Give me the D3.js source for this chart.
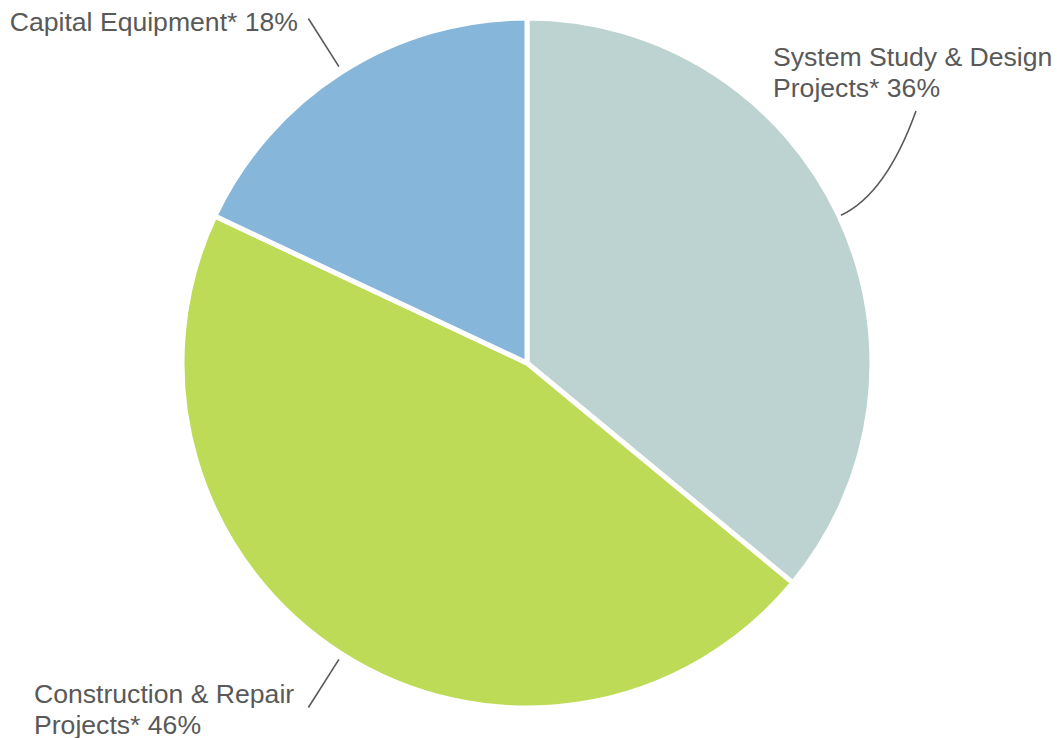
<!DOCTYPE html>
<html>
<head>
<meta charset="utf-8">
<script src="https://cdn.jsdelivr.net/npm/d3@7"></script>
<style>
  html, body { margin: 0; padding: 0; background: #fff; }
  svg { display: block; }
</style>
</head>
<body>
<div id="chart"></div>
<script>
// chart data
var categories = ["System Study & Design Projects*", "Construction & Repair Projects*", "Capital Equipment*"];
var shares = [36, 46, 18];
var sliceColors = ["#bdd3d1", "#bddb57", "#86b7da"];

var W = 1057, H = 738;
var cx = 527, cy = 363, r = 345;

// label layout: lines, anchor, x, first baseline
var labelLayout = [
    { lines: ["System Study & Design", "Projects* 36%"], anchor: "start", x: 773, y: 66 },
    { lines: ["Construction & Repair", "Projects* 46%"], anchor: "start", x: 34, y: 703 },
    { lines: ["Capital Equipment* 18%"], anchor: "end", x: 298, y: 31 }
];

var svg = d3.select("#chart").append("svg")
    .attr("width", W)
    .attr("height", H);

var g = svg.append("g").attr("transform", "translate(" + cx + "," + cy + ")");

var data = categories.map(function(c, i) { return { name: c, value: shares[i], color: sliceColors[i] }; });

var pie = d3.pie()
    .sort(null)
    .value(function(d) { return d.value; });

var arc = d3.arc()
    .outerRadius(r)
    .innerRadius(0);

var arcs = pie(data);

g.selectAll(".arc")
    .data(arcs)
    .enter().append("path")
    .attr("class", "arc")
    .attr("d", arc)
    .attr("fill", function(d) { return d.data.color; })
    .attr("stroke", "#fff")
    .attr("stroke-width", 5)
    .attr("stroke-linejoin", "miter");

// point at distance rr along the slice's mid angle
function polar(d, rr) {
    var a = (d.startAngle + d.endAngle) / 2;
    return [Math.sin(a) * rr, -Math.cos(a) * rr];
}

var leader = g.append("g")
    .attr("fill", "none")
    .attr("stroke", "#595959")
    .attr("stroke-width", 1.6);

arcs.forEach(function(d, i) {
    if (i === 0) {
        // curved leader up to the label
        var p0 = polar(d, r + 2);
        var p2 = [916 - cx, 111 - cy];
        var c = [p0[0] + 45, p0[1] - 21];
        var path = d3.path();
        path.moveTo(p0[0], p0[1]);
        path.quadraticCurveTo(c[0], c[1], p2[0], p2[1]);
        leader.append("path").attr("d", path.toString());
    } else {
        var a = polar(d, r + 6), b = polar(d, r + 63);
        leader.append("line")
            .attr("x1", a[0]).attr("y1", a[1])
            .attr("x2", b[0]).attr("y2", b[1]);
    }
});

labelLayout.forEach(function(l) {
    var t = svg.append("text")
        .attr("x", l.x)
        .attr("y", l.y)
        .attr("text-anchor", l.anchor)
        .style("fill", "#595959")
        .style("font", "26.6px 'Liberation Sans', Arial, sans-serif");
    l.lines.forEach(function(line, k) {
        t.append("tspan")
            .attr("x", l.x)
            .attr("dy", k === 0 ? 0 : 31)
            .text(line);
    });
});
</script>
</body>
</html>
